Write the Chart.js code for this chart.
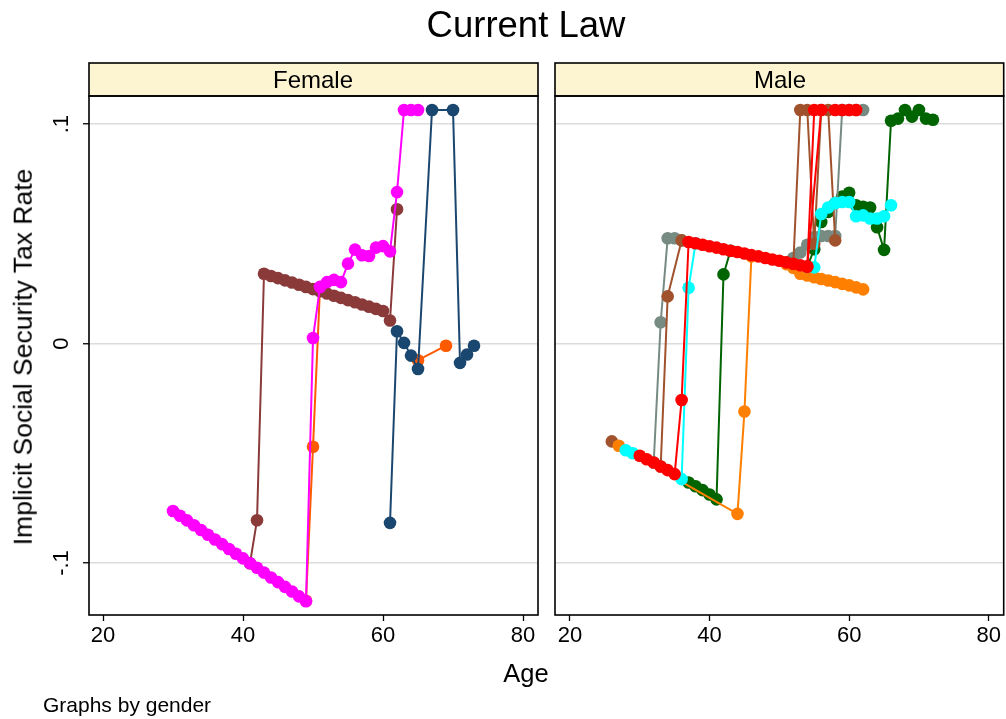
<!DOCTYPE html>
<html><head><meta charset="utf-8">
<script src="https://cdn.jsdelivr.net/npm/chart.js@4/dist/chart.umd.min.js"></script>
<style>
html,body{margin:0;padding:0;background:#fff;}
#wrap{position:relative;width:1006px;height:719px;overflow:hidden;font-family:"Liberation Sans",Arial,Helvetica,sans-serif;color:#000;}
canvas{position:absolute;left:0;top:0;}
.t{position:absolute;white-space:nowrap;line-height:1;transform:translate(-50%,-50%);}
</style></head>
<body><div id="wrap">
<canvas id="cf" width="1006" height="719"></canvas>
<canvas id="cm" width="1010" height="719"></canvas>
<div class="t" style="left:526px;top:25px;font-size:36.5px;">Current Law</div>
<div class="t" style="left:313px;top:80px;font-size:24px;">Female</div>
<div class="t" style="left:780px;top:80px;font-size:24px;">Male</div>
<div class="t" style="left:23px;top:357px;font-size:26.5px;transform:translate(-50%,-50%) rotate(-90deg);">Implicit Social Security Tax Rate</div>
<div class="t" style="left:526px;top:674px;font-size:25.5px;">Age</div>
<div class="t" style="left:43px;top:704px;font-size:21px;transform:translate(0,-50%);">Graphs by gender</div>
</div>
<script>
// ---- axis ticks ----
const xTicks = [20, 40, 60, 80];
const yTicks = [-0.1, 0, 0.1];
const yTickLabels = ['-.1', '0', '.1'];

// ---- Female ----
const fMagAge = [30,31,32,33,34,35,36,37,38,39,40,41,42,43,44,45,46,47,48,49,50,51,52,53,54,55,56,57,58,59,60,61,62,63,64,65];
const fMagVal = [-0.0763,-0.0785,-0.0806,-0.0828,-0.0850,-0.0871,-0.0893,-0.0914,-0.0936,-0.0958,-0.0979,-0.1001,-0.1022,-0.1044,-0.1066,-0.1087,-0.1109,-0.1130,-0.1152,-0.1174,0.0025,0.0258,0.0280,0.0290,0.0280,0.0364,0.0428,0.0402,0.0399,0.0437,0.0444,0.0420,0.0690,0.1064,0.1064,0.1064];
const fBrnAge = [41,42,43,44,45,46,47,48,49,50,51,52,53,54,55,56,57,58,59,60,61,62];
const fBrnVal = [-0.1001,-0.0805,0.0318,0.0308,0.0298,0.0288,0.0278,0.0268,0.0258,0.0248,0.0238,0.0228,0.0218,0.0208,0.0198,0.0188,0.0178,0.0168,0.0158,0.0148,0.0105,0.0612];
const fNavAge = [61,62,63,64,65,67,70,71,72,73];
const fNavVal = [-0.0817,0.0056,0.0003,-0.0055,-0.0116,0.1064,0.1064,-0.0088,-0.0050,-0.0010];
const fOrgAgeA = [49,50,51];
const fOrgValA = [-0.1172,-0.0470,0.0255];
const fOrgAgeB = [65,69];
const fOrgValB = [-0.0076,-0.0010];

// ---- Male ----
const mRedAAge = [30,31,32,33,34,35,36,37,38,39,40,41,42,43,44,45,46,47,48,49,50,51,52,53,54,55];
const mRedAVal = [-0.0511,-0.0527,-0.0542,-0.0560,-0.0577,-0.0595,-0.0257,0.0463,0.0457,0.0450,0.0443,0.0437,0.0430,0.0423,0.0417,0.0410,0.0403,0.0397,0.0390,0.0383,0.0377,0.0370,0.0363,0.0357,0.0350,0.1064];
const mRedBAge = [54,56,58,59,60,61];
const mRedBVal = [0.0352,0.1064,0.1064,0.1064,0.1064,0.1064];
const mCyaAge = [28,29,36,37,38,54,55,56,57,58,59,60,61,62,63,64,65,66];
const mCyaVal = [-0.0486,-0.0500,-0.0618,0.0254,0.0457,0.0350,0.0347,0.0590,0.0620,0.0640,0.0645,0.0645,0.0580,0.0584,0.0570,0.0570,0.0580,0.0630];
const mOrgAge = [27,44,45,46,51,52,53,54,55,56,57,58,59,60,61,62];
const mOrgVal = [-0.0466,-0.0776,-0.0310,0.0397,0.0362,0.0345,0.0318,0.0310,0.0302,0.0294,0.0287,0.0280,0.0272,0.0265,0.0256,0.0247];
const mBrnAge = [26,33,34,36,52,53,54,55,56,57,58];
const mBrnVal = [-0.0446,-0.0560,0.0215,0.0470,0.0363,0.1064,0.1064,0.0455,0.1064,0.1064,0.0470];
const mGryAge = [32,33,34,35,36,51,52,53,54,55,56,57,58,59,60,61,62];
const mGryVal = [-0.0542,0.0097,0.0480,0.0480,0.0470,0.0370,0.0390,0.0415,0.0450,0.0485,0.0490,0.0490,0.0490,0.1064,0.1064,0.1064,0.1064];
const mGrnAge = [37,38,39,40,41,42,43,54,55,56,57,58,59,60,61,62,63,64,65,66,67,68,69,70,71,72];
const mGrnVal = [-0.0633,-0.0650,-0.0668,-0.0688,-0.0710,0.0315,0.0423,0.0350,0.0430,0.0554,0.0600,0.0640,0.0670,0.0687,0.0630,0.0623,0.0620,0.0530,0.0427,0.1015,0.1025,0.1064,0.1034,0.1064,0.1025,0.1020];

const FONT = '"Liberation Sans", Arial, Helvetica, sans-serif';
Chart.defaults.font.family = FONT;
Chart.defaults.color = '#000';

function series(ages, vals, color) {
  return {
    data: ages.map((a, i) => ({x: a, y: vals[i]})),
    borderColor: color, backgroundColor: color,
    pointBackgroundColor: color, pointBorderColor: color, pointBorderWidth: 0,
    pointRadius: 6.3, pointHoverRadius: 6.3, borderWidth: 2,
    borderJoinStyle: 'round', borderCapStyle: 'round',
    tension: 0, showLine: true, fill: false, clip: false
  };
}

const frame = {
  id: 'frame',
  beforeDraw(c) {
    const {ctx, chartArea: a} = c;
    ctx.save();
    ctx.fillStyle = '#fdf4d2';
    ctx.fillRect(a.left, 63, a.right - a.left, a.top - 63);
    ctx.restore();
  },
  afterDraw(c) {
    const {ctx, chartArea: a} = c;
    ctx.save();
    ctx.strokeStyle = '#000';
    ctx.lineWidth = 1.6;
    ctx.strokeRect(a.left, a.top, a.right - a.left, a.bottom - a.top);
    ctx.strokeRect(a.left, 63, a.right - a.left, a.top - 63);
    ctx.restore();
  }
};

const yLabels = {
  id: 'yLabels',
  afterDraw(c) {
    const s = c.scales.y, ctx = c.ctx;
    ctx.save();
    ctx.font = '22px ' + FONT;
    ctx.fillStyle = '#000';
    ctx.textAlign = 'center';
    ctx.textBaseline = 'middle';
    yTicks.forEach((v, i) => {
      const py = s.getPixelForValue(v);
      ctx.save();
      ctx.translate(62, py);
      ctx.rotate(-Math.PI / 2);
      ctx.fillText(yTickLabels[i], 0, 0);
      ctx.restore();
    });
    ctx.restore();
  }
};

function makeOptions(isFemale, padLeft, padRight, xmin, xmax) {
  return {
    responsive: false, animation: false, devicePixelRatio: 1,
    layout: {padding: {left: padLeft, right: padRight, top: 96, bottom: 0}},
    plugins: {legend: {display: false}, tooltip: {enabled: false}, title: {display: false}},
    scales: {
      x: {
        type: 'linear', min: xmin, max: xmax,
        afterBuildTicks: s => { s.ticks = xTicks.map(v => ({value: v})); },
        afterFit: s => { s.height = 104; },
        ticks: {font: {size: 22}, color: '#000', padding: 2, maxRotation: 0, minRotation: 0, autoSkip: false},
        grid: {drawOnChartArea: false, drawTicks: true, tickLength: 6, tickColor: '#000', tickWidth: 1.3},
        border: {display: false}
      },
      y: {
        type: 'linear', min: -0.1237, max: 0.1128,
        afterBuildTicks: s => { s.ticks = yTicks.map(v => ({value: v})); },
        afterFit: s => { s.width = isFemale ? 89 : 0; },
        ticks: {display: false},
        grid: {color: '#dcdcdc', lineWidth: 1.5, drawTicks: isFemale, tickLength: 6, tickColor: '#000', tickWidth: 1.3},
        border: {display: false}
      }
    }
  };
}

new Chart(document.getElementById('cf'), {
  type: 'line',
  data: {datasets: [
    series(fNavAge, fNavVal, '#1a476f'),
    series(fMagAge, fMagVal, '#ff00ff'),
    series(fBrnAge, fBrnVal, '#8b3a3a'),
    series(fOrgAgeA, fOrgValA, '#ff5a00'),
    series(fOrgAgeB, fOrgValB, '#ff5a00')
  ]},
  options: makeOptions(true, 0, 1006 - 538, 18, 82.14),
  plugins: [frame, yLabels]
});

new Chart(document.getElementById('cm'), {
  type: 'line',
  data: {datasets: [
    series(mRedBAge, mRedBVal, '#ff0000'),
    series(mRedAAge, mRedAVal, '#ff0000'),
    series(mCyaAge, mCyaVal, '#00ffff'),
    series(mOrgAge, mOrgVal, '#ff7f00'),
    series(mBrnAge, mBrnVal, '#a0522d'),
    series(mGryAge, mGryVal, '#778b82'),
    series(mGrnAge, mGrnVal, '#006400')
  ]},
  options: makeOptions(false, 555, 1.5, 17.86, 82.14),
  plugins: [frame]
});
</script>
</body></html>
